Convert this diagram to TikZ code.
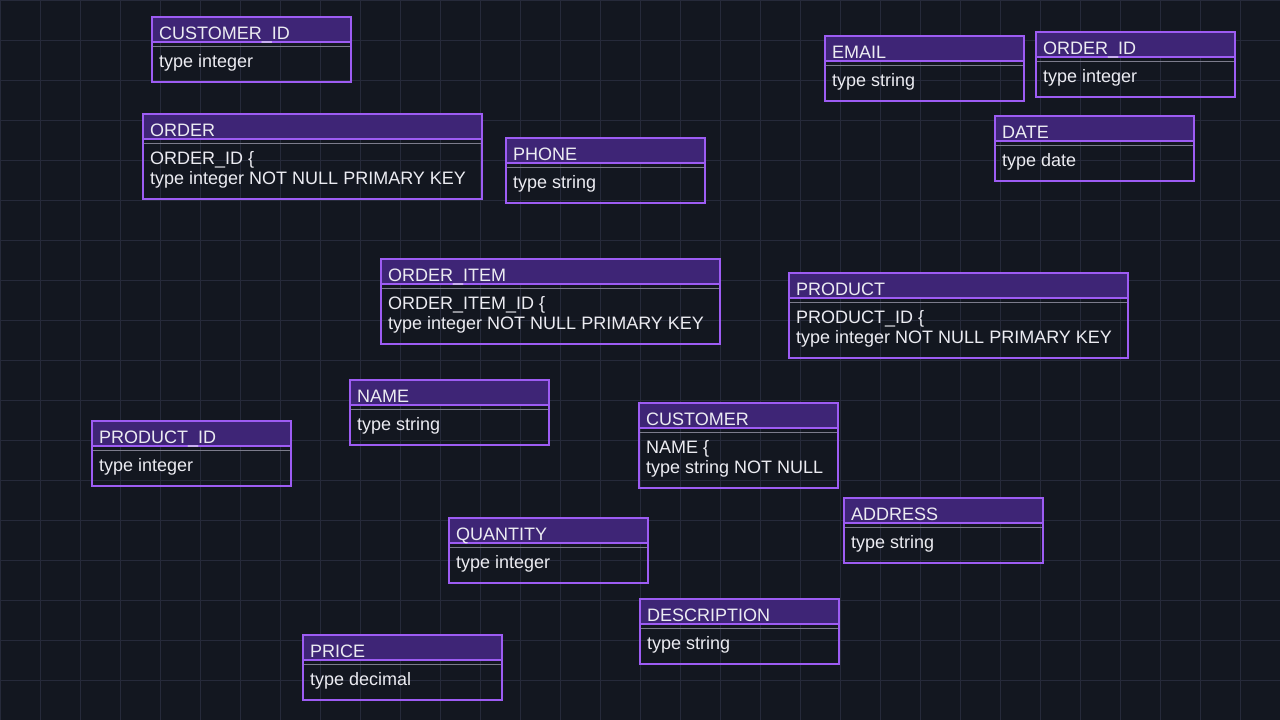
\documentclass[tikz,border=0pt]{standalone}
\usepackage{fontspec}
\setmainfont{Liberation Sans}
\definecolor{bg}{HTML}{131720}
\definecolor{gridc}{HTML}{262A3A}
\definecolor{bord}{HTML}{9D5CF3}
\definecolor{head}{HTML}{3E2576}
\definecolor{sep}{HTML}{7C7C8C}
\definecolor{txt}{HTML}{ECECF2}
\tikzset{
  entbox/.style={draw=bord, line width=2pt, rectangle, inner sep=0pt, outer sep=0pt, anchor=north west},
  enttitle/.style={text=txt, font=\fontsize{18}{21}\selectfont, inner sep=0pt, anchor=base west},
  entbody/.style={text=txt, font=\fontsize{18}{21}\selectfont, inner sep=0pt, anchor=base west},
}
% #1 name, #2 x, #3 y, #4 width, #5 height, #6 title
\newcommand\entframe[6]{%
  \fill[head] (#2,#3) rectangle ++(#4,25);
  \draw[bord, line width=1.6pt] (#2,#3+25) -- ++(#4,0);
  \draw[sep, line width=0.8pt] (#2,#3+29) -- ++(#4,0);
  \node[entbox, minimum width=#4pt, minimum height=#5pt] (#1) at (#2,#3) {};
  \node[enttitle] (#1-title) at ([xshift=7pt,yshift=-22pt]#1.north west) {#6};
}
\newcommand\entone[7]{%
  \entframe{#1}{#2}{#3}{#4}{65}{#5}
  \node[entbody] (#1-l1) at ([xshift=7pt,yshift=-50pt]#1.north west) {#6};
}
\newcommand\enttwo[7]{%
  \entframe{#1}{#2}{#3}{#4}{85}{#5}
  \node[entbody] (#1-l1) at ([xshift=7pt,yshift=-50pt]#1.north west) {#6};
  \node[entbody] (#1-l2) at ([xshift=7pt,yshift=-70pt]#1.north west) {#7};
}
\begin{document}
\begin{tikzpicture}[x=1pt,y=-1pt]
\fill[bg] (0,0) rectangle (1280,720);
\useasboundingbox (0,0) rectangle (1280,720);
\foreach \i in {0,40,...,1280} \draw[gridc, line width=1pt] (\i,0) -- (\i,720);
\foreach \j in {0,40,...,720} \draw[gridc, line width=1pt] (0,\j) -- (1280,\j);

\entone{customerid}{152}{17}{199}{CUSTOMER\_ID}{type integer}{}
\enttwo{order}{143}{114}{339}{ORDER}{ORDER\_ID \{}{type integer NOT NULL PRIMARY KEY}
\entone{phone}{506}{138}{199}{PHONE}{type string}{}
\entone{email}{825}{36}{199}{EMAIL}{type string}{}
\entone{orderid}{1036}{32}{199}{ORDER\_ID}{type integer}{}
\entone{date}{995}{116}{199}{DATE}{type date}{}
\enttwo{orderitem}{381}{259}{339}{ORDER\_ITEM}{ORDER\_ITEM\_ID \{}{type integer NOT NULL PRIMARY KEY}
\enttwo{product}{789}{273}{339}{PRODUCT}{PRODUCT\_ID \{}{type integer NOT NULL PRIMARY KEY}
\entone{name}{350}{380}{199}{NAME}{type string}{}
\entone{productid}{92}{421}{199}{PRODUCT\_ID}{type integer}{}
\enttwo{customer}{639}{403}{199}{CUSTOMER}{NAME \{}{type string NOT NULL}
\entone{address}{844}{498}{199}{ADDRESS}{type string}{}
\entone{quantity}{449}{518}{199}{QUANTITY}{type integer}{}
\entone{description}{640}{599}{199}{DESCRIPTION}{type string}{}
\entone{price}{303}{635}{199}{PRICE}{type decimal}{}
\end{tikzpicture}
\end{document}
